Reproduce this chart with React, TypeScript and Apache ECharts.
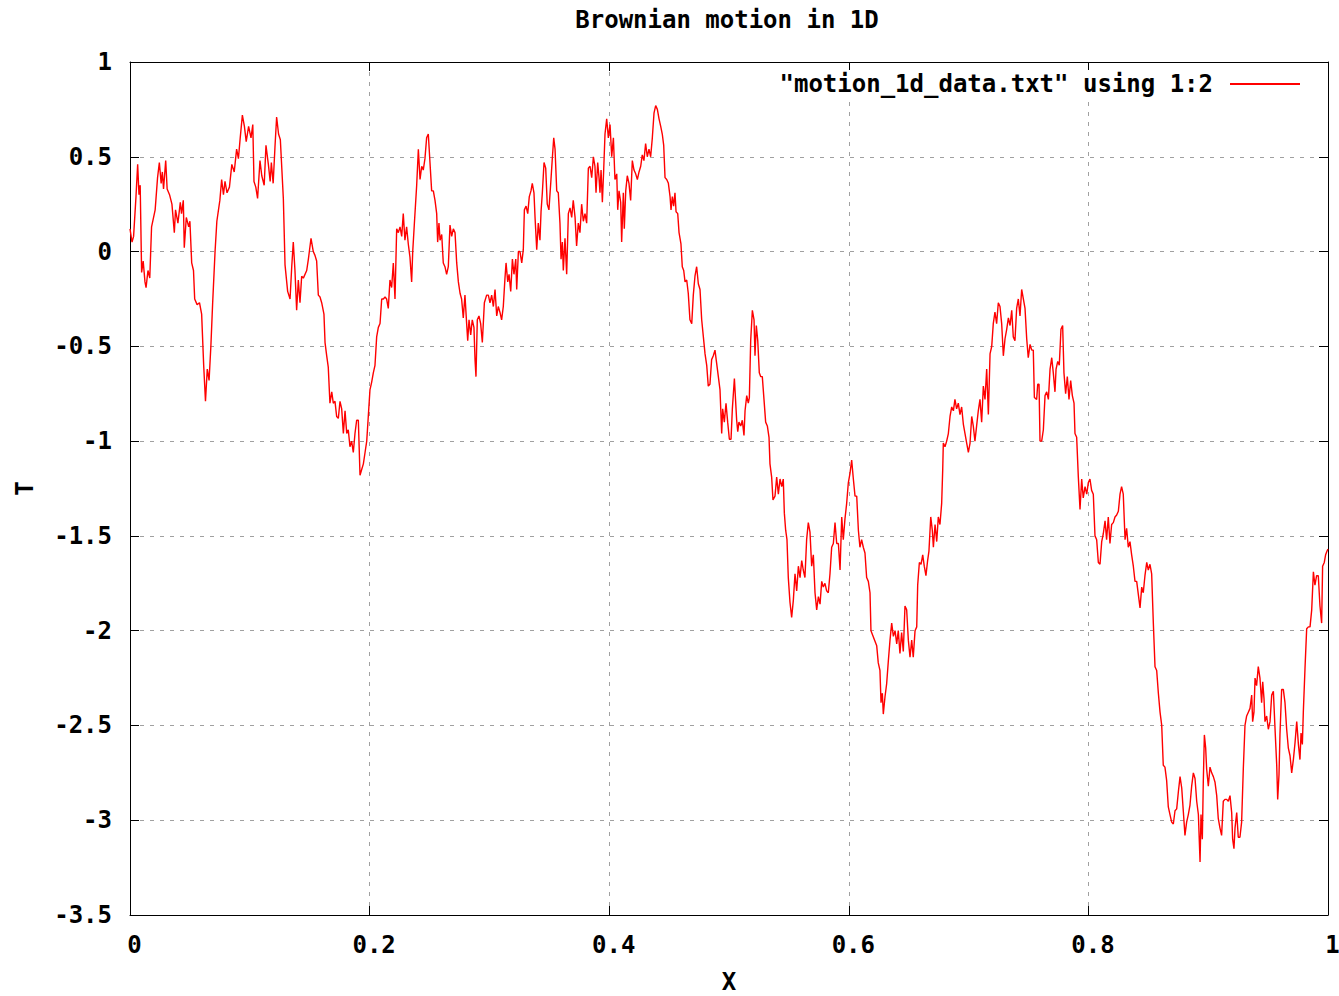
import React, { useEffect, useRef } from "react";
import * as echarts from "echarts";

const TITLE = "Brownian motion in 1D";
const SERIES_NAME = '"motion_1d_data.txt" using 1:2';
const X_NAME = "X";
const Y_NAME = "T";

// [x, T] pairs, segment by segment
const SEG_A: [number, number][] = [
  [0.0, 0.12], [0.0017, 0.05], [0.003, 0.08], [0.005, 0.29], [0.0064, 0.46], [0.0075, 0.3], [0.0085, 0.35],
  [0.0097, -0.11], [0.011, -0.05], [0.0125, -0.16], [0.0134, -0.19], [0.015, -0.1], [0.0165, -0.14], [0.018, 0.13],
  [0.021, 0.22], [0.023, 0.39], [0.0245, 0.47], [0.026, 0.36], [0.027, 0.42], [0.028, 0.33], [0.0298, 0.48],
  [0.031, 0.33], [0.033, 0.3], [0.035, 0.25], [0.037, 0.1], [0.038, 0.22], [0.04, 0.15], [0.042, 0.26],
  [0.043, 0.2], [0.0445, 0.27], [0.0453, 0.02], [0.047, 0.18], [0.049, 0.13], [0.05, 0.16], [0.0515, -0.06],
  [0.053, -0.1], [0.054, -0.25], [0.056, -0.28], [0.058, -0.27], [0.0598, -0.33], [0.0615, -0.6], [0.063, -0.79],
  [0.0645, -0.62], [0.066, -0.68], [0.0675, -0.5], [0.069, -0.27], [0.071, 0.0], [0.0725, 0.16], [0.075, 0.27],
  [0.0765, 0.38], [0.078, 0.3], [0.0793, 0.37], [0.081, 0.31], [0.083, 0.34], [0.085, 0.46], [0.087, 0.42],
  [0.089, 0.54], [0.0905, 0.49], [0.092, 0.6], [0.0938, 0.72], [0.0955, 0.66], [0.097, 0.58], [0.099, 0.66],
  [0.101, 0.6], [0.1025, 0.67], [0.1035, 0.37], [0.105, 0.34], [0.1065, 0.28], [0.1085, 0.48], [0.11, 0.4],
  [0.112, 0.35], [0.1135, 0.56], [0.1155, 0.46], [0.117, 0.37], [0.118, 0.47], [0.1195, 0.36], [0.121, 0.55],
  [0.1224, 0.71], [0.124, 0.62], [0.1255, 0.59], [0.128, 0.28],
];

const SEG_B: [number, number][] = [
  [0.1294, -0.07], [0.1316, -0.21], [0.1336, -0.25], [0.135, -0.08], [0.1363, 0.05], [0.1377, -0.1], [0.1391, -0.31],
  [0.1405, -0.15], [0.1419, -0.27], [0.1433, -0.13], [0.1447, -0.14], [0.1475, -0.1], [0.1489, -0.04], [0.1511, 0.07],
  [0.153, 0.0], [0.1544, -0.02], [0.1558, -0.05], [0.1572, -0.23], [0.1586, -0.24], [0.16, -0.27], [0.1619, -0.33],
  [0.1628, -0.48], [0.1642, -0.55], [0.1655, -0.61], [0.1669, -0.8], [0.1684, -0.74], [0.1697, -0.8], [0.1711, -0.79],
  [0.1725, -0.87], [0.1739, -0.88], [0.1753, -0.79], [0.1767, -0.83], [0.1781, -0.96], [0.1795, -0.84], [0.1809, -0.96],
  [0.1822, -0.94], [0.1836, -1.03], [0.185, -1.0], [0.1864, -1.06], [0.1878, -0.96], [0.1892, -0.89], [0.1906, -0.89],
  [0.192, -1.18], [0.1934, -1.15], [0.1948, -1.12], [0.1962, -1.06], [0.1976, -1.0], [0.1989, -0.87], [0.2003, -0.73],
  [0.2017, -0.69], [0.2031, -0.64], [0.2045, -0.6], [0.2059, -0.45], [0.2073, -0.4], [0.2087, -0.38], [0.2101, -0.25],
  [0.2115, -0.25], [0.2129, -0.24], [0.2142, -0.25], [0.2156, -0.3], [0.217, -0.15], [0.2184, -0.19], [0.2198, -0.06],
  [0.2212, -0.25], [0.2226, 0.12], [0.224, 0.1], [0.2254, 0.13], [0.2268, 0.08], [0.2281, 0.2], [0.2295, 0.06],
  [0.2309, 0.13], [0.2323, 0.04], [0.2337, -0.03], [0.2351, -0.16], [0.236, 0.0], [0.2373, 0.14], [0.2393, 0.35],
  [0.2407, 0.54], [0.2421, 0.38], [0.2435, 0.45], [0.2448, 0.43], [0.2462, 0.49], [0.2476, 0.6], [0.249, 0.62],
  [0.2504, 0.47], [0.2518, 0.32],
];

const SEG_C: [number, number][] = [
  [0.2532, 0.32], [0.2546, 0.27], [0.256, 0.2], [0.2568, 0.05], [0.2579, 0.15], [0.2588, 0.06], [0.2602, 0.09],
  [0.2615, -0.06], [0.2629, -0.08], [0.2643, -0.12], [0.2657, -0.08], [0.2671, 0.14], [0.2685, 0.08], [0.2699, 0.12],
  [0.2713, 0.1], [0.2727, -0.06], [0.2741, -0.16], [0.2755, -0.22], [0.2768, -0.25], [0.2782, -0.35], [0.2796, -0.23],
  [0.281, -0.38], [0.2819, -0.47], [0.283, -0.36], [0.2844, -0.44], [0.2857, -0.36], [0.2871, -0.4], [0.288, -0.57],
  [0.2888, -0.66], [0.2899, -0.36], [0.2913, -0.34], [0.2927, -0.38], [0.2941, -0.48], [0.2958, -0.27], [0.2977, -0.23],
  [0.2991, -0.23], [0.3005, -0.27], [0.3019, -0.23], [0.3033, -0.29], [0.3047, -0.2], [0.3061, -0.34], [0.3074, -0.29],
  [0.3088, -0.32], [0.3102, -0.36], [0.3116, -0.29], [0.313, -0.14], [0.3139, -0.06], [0.3153, -0.16], [0.3164, -0.12],
  [0.3178, -0.21], [0.3192, -0.04], [0.3205, -0.12], [0.322, -0.04], [0.3228, -0.2], [0.3242, 0.0], [0.3255, 0.0],
  [0.327, -0.06], [0.3283, 0.01], [0.3292, 0.22], [0.3306, 0.24], [0.332, 0.2], [0.3333, 0.29], [0.3347, 0.32],
  [0.3358, 0.36], [0.3372, 0.31], [0.3381, 0.18], [0.3395, 0.01], [0.3408, 0.15], [0.3422, 0.06], [0.3431, 0.21],
  [0.3442, 0.31], [0.3456, 0.47], [0.347, 0.44], [0.3483, 0.25], [0.3497, 0.22], [0.3514, 0.38], [0.3525, 0.49],
  [0.3537, 0.6], [0.3548, 0.54], [0.3562, 0.32], [0.3575, 0.31], [0.3589, 0.15], [0.3598, -0.04], [0.3609, 0.05],
  [0.3617, -0.1], [0.3631, 0.07], [0.3645, -0.12], [0.3659, 0.2], [0.3673, 0.23], [0.3687, 0.18], [0.37, 0.27],
  [0.3715, 0.18], [0.3728, 0.03], [0.3742, 0.15], [0.3756, 0.1], [0.377, 0.25], [0.3784, 0.16],
];

const SEG_D: [number, number][] = [
  [0.3798, 0.2], [0.3812, 0.15], [0.3826, 0.44], [0.384, 0.45], [0.3854, 0.39], [0.3868, 0.5], [0.3881, 0.45],
  [0.389, 0.31], [0.3904, 0.47], [0.3915, 0.39], [0.3923, 0.31], [0.3932, 0.43], [0.3943, 0.26], [0.3954, 0.43],
  [0.3965, 0.62], [0.3979, 0.7], [0.3993, 0.6], [0.4007, 0.67], [0.4021, 0.5], [0.4035, 0.6], [0.4048, 0.38],
  [0.4063, 0.41], [0.4071, 0.22], [0.4082, 0.32], [0.4096, 0.26], [0.4104, 0.05], [0.4118, 0.31], [0.4126, 0.12],
  [0.4138, 0.32], [0.4151, 0.4], [0.4165, 0.36], [0.4179, 0.27], [0.4193, 0.48], [0.4207, 0.43], [0.4221, 0.41],
  [0.4235, 0.38], [0.4249, 0.42], [0.4263, 0.45], [0.4276, 0.51], [0.429, 0.48], [0.4304, 0.57], [0.4318, 0.5],
  [0.4332, 0.54], [0.4346, 0.5], [0.436, 0.6], [0.4374, 0.73], [0.4388, 0.77], [0.4402, 0.75], [0.4416, 0.7],
  [0.443, 0.66], [0.4443, 0.62], [0.4455, 0.56], [0.4466, 0.39], [0.448, 0.38], [0.4494, 0.36], [0.4508, 0.29],
  [0.4516, 0.22], [0.4527, 0.29], [0.4538, 0.24], [0.4549, 0.31], [0.4558, 0.21], [0.4572, 0.2], [0.4583, 0.1],
  [0.4599, 0.04], [0.461, -0.08], [0.4622, -0.1], [0.4633, -0.16], [0.4647, -0.15], [0.466, -0.22], [0.4674, -0.36],
  [0.4689, -0.38], [0.4702, -0.23], [0.4716, -0.13], [0.473, -0.08], [0.4744, -0.17], [0.4758, -0.2], [0.4772, -0.36],
  [0.4786, -0.45], [0.48, -0.54], [0.4814, -0.6], [0.4827, -0.71], [0.4841, -0.7], [0.4855, -0.57], [0.4869, -0.55],
  [0.4883, -0.52], [0.4897, -0.59], [0.4911, -0.66], [0.4925, -0.73], [0.4939, -0.96], [0.4947, -0.83], [0.4961, -0.9],
  [0.4975, -0.8], [0.4989, -0.9], [0.5003, -0.99], [0.5017, -0.99], [0.5028, -0.83], [0.5045, -0.67],
];

const SEG_E: [number, number][] = [
  [0.5064, -0.89], [0.5073, -0.95], [0.5083, -0.9], [0.5098, -0.92], [0.5111, -0.89], [0.5125, -0.97], [0.5134, -0.84],
  [0.5148, -0.76], [0.5161, -0.8], [0.517, -0.77], [0.5181, -0.47], [0.5195, -0.31], [0.5209, -0.36], [0.5217, -0.55],
  [0.5228, -0.39], [0.524, -0.47], [0.5253, -0.64], [0.5265, -0.66], [0.5278, -0.66], [0.5292, -0.78], [0.5306, -0.9],
  [0.532, -0.92], [0.5334, -0.98], [0.5342, -1.12], [0.5356, -1.19], [0.5367, -1.31], [0.5384, -1.29], [0.5398, -1.19],
  [0.5412, -1.28], [0.5426, -1.2], [0.544, -1.24], [0.5453, -1.2], [0.5462, -1.38], [0.5473, -1.47], [0.5484, -1.52],
  [0.5495, -1.72], [0.5509, -1.85], [0.5523, -1.93], [0.5537, -1.84], [0.5551, -1.7], [0.5565, -1.79], [0.5579, -1.66],
  [0.5593, -1.72], [0.5607, -1.63], [0.562, -1.68], [0.5634, -1.72], [0.5648, -1.52], [0.5662, -1.43], [0.5676, -1.48],
  [0.569, -1.66], [0.5704, -1.6], [0.5718, -1.8], [0.5732, -1.89], [0.5746, -1.82], [0.576, -1.86], [0.5774, -1.74],
  [0.5787, -1.77], [0.5801, -1.75], [0.5815, -1.79], [0.5829, -1.8], [0.5843, -1.7], [0.5857, -1.56], [0.5871, -1.54],
  [0.5885, -1.43], [0.5899, -1.54], [0.5913, -1.54], [0.5927, -1.68], [0.5941, -1.4], [0.5954, -1.52], [0.5968, -1.41],
  [0.5982, -1.33], [0.5996, -1.22], [0.601, -1.17], [0.6024, -1.1], [0.6038, -1.2], [0.6052, -1.29], [0.6066, -1.29],
  [0.608, -1.47], [0.6093, -1.56], [0.6107, -1.52], [0.6121, -1.56], [0.6135, -1.59], [0.6149, -1.72], [0.6163, -1.74],
  [0.6177, -1.8], [0.6185, -2.0],
];

const SEG_F: [number, number][] = [
  [0.6233, -2.08], [0.6246, -2.17], [0.626, -2.21], [0.6269, -2.38], [0.628, -2.33], [0.6288, -2.44], [0.6302, -2.35],
  [0.6316, -2.28], [0.633, -2.16], [0.6344, -2.05], [0.6358, -1.96], [0.6372, -2.03], [0.6386, -2.0], [0.64, -2.07],
  [0.6413, -2.0], [0.6427, -2.12], [0.6441, -2.01], [0.6455, -2.11], [0.6469, -1.87], [0.6483, -1.89], [0.6497, -2.05],
  [0.6511, -2.14], [0.6525, -2.05], [0.6538, -2.14], [0.6553, -2.0], [0.6567, -1.98], [0.6575, -1.76], [0.6589, -1.64],
  [0.6603, -1.65], [0.6617, -1.6], [0.663, -1.66], [0.6644, -1.71], [0.6658, -1.63], [0.6669, -1.58], [0.6684, -1.4],
  [0.6697, -1.47], [0.6706, -1.56], [0.672, -1.44], [0.6734, -1.53], [0.6747, -1.4], [0.6761, -1.44], [0.6775, -1.33],
  [0.6784, -1.15], [0.6789, -1.01], [0.6803, -1.03], [0.6817, -1.0], [0.6831, -0.96], [0.6845, -0.87], [0.6859, -0.82],
  [0.6873, -0.84], [0.6886, -0.78], [0.69, -0.83], [0.6914, -0.8], [0.6928, -0.86], [0.6942, -0.82], [0.6956, -0.91],
  [0.697, -0.96], [0.6984, -1.01], [0.6998, -1.06], [0.7012, -1.01], [0.7026, -0.87], [0.7039, -0.92], [0.7053, -1.0],
  [0.7067, -0.92], [0.7081, -0.84], [0.7095, -0.78], [0.7109, -0.9], [0.7123, -0.71], [0.7137, -0.78], [0.7151, -0.62],
  [0.7165, -0.86], [0.7179, -0.54], [0.7193, -0.5], [0.7206, -0.38], [0.722, -0.32], [0.7234, -0.38], [0.7248, -0.27],
  [0.7262, -0.29], [0.7276, -0.38], [0.729, -0.55], [0.7304, -0.46], [0.7318, -0.41], [0.7332, -0.35], [0.7346, -0.39],
  [0.736, -0.31], [0.7373, -0.45], [0.7387, -0.47], [0.7401, -0.3], [0.7415, -0.25], [0.7429, -0.34], [0.7443, -0.2],
  [0.7457, -0.25], [0.7471, -0.3], [0.7485, -0.46], [0.7498, -0.56], [0.7513, -0.49], [0.7527, -0.52], [0.754, -0.52],
  [0.7549, -0.77],
];

const SEG_G: [number, number][] = [
  [0.7568, -0.78], [0.7577, -0.7], [0.7588, -0.7], [0.7596, -1.0], [0.761, -1.0], [0.7624, -0.94], [0.7638, -0.76],
  [0.7652, -0.74], [0.7666, -0.78], [0.768, -0.62], [0.7694, -0.56], [0.7707, -0.64], [0.7721, -0.74], [0.773, -0.62],
  [0.7744, -0.58], [0.7757, -0.6], [0.7771, -0.41], [0.7785, -0.39], [0.7796, -0.64], [0.781, -0.75], [0.7824, -0.66],
  [0.7838, -0.78], [0.7852, -0.68], [0.7866, -0.76], [0.788, -0.8], [0.7888, -0.96], [0.7902, -0.98], [0.7916, -1.19],
  [0.793, -1.36], [0.7944, -1.2], [0.7957, -1.3], [0.7972, -1.24], [0.7986, -1.28], [0.7999, -1.22], [0.8013, -1.2],
  [0.8027, -1.26], [0.8041, -1.28], [0.8055, -1.5], [0.8069, -1.52], [0.8083, -1.64], [0.8097, -1.65], [0.8111, -1.53],
  [0.8124, -1.49], [0.8139, -1.42], [0.8152, -1.52], [0.8166, -1.4], [0.818, -1.54], [0.8194, -1.44], [0.8208, -1.43],
  [0.8222, -1.4], [0.8236, -1.39], [0.825, -1.37], [0.8264, -1.28], [0.8277, -1.24], [0.8291, -1.28], [0.8306, -1.52],
  [0.8319, -1.46], [0.8333, -1.56], [0.8347, -1.53], [0.8361, -1.6], [0.8375, -1.66], [0.8389, -1.74], [0.8403, -1.74],
  [0.8417, -1.81], [0.8431, -1.88], [0.8445, -1.77], [0.8458, -1.8], [0.8472, -1.71], [0.8487, -1.64], [0.85, -1.68],
  [0.8514, -1.65], [0.8528, -1.7], [0.8542, -1.96], [0.8556, -2.19], [0.857, -2.21], [0.8584, -2.33], [0.8598, -2.43],
  [0.8612, -2.5], [0.8625, -2.71], [0.8639, -2.72], [0.8653, -2.79], [0.8667, -2.93], [0.8681, -2.97], [0.8695, -3.01],
  [0.8709, -3.02], [0.8723, -2.95], [0.8737, -2.94], [0.8751, -2.85], [0.8765, -2.77], [0.8779, -2.83], [0.8792, -2.95],
];

const SEG_H: [number, number][] = [
  [0.8806, -3.08], [0.882, -3.01], [0.8834, -2.97], [0.8848, -2.92], [0.8862, -2.82], [0.8876, -2.75], [0.889, -2.78],
  [0.8904, -2.9], [0.8918, -2.97], [0.8932, -3.22], [0.894, -2.97], [0.8951, -3.1], [0.8959, -2.8], [0.8968, -2.55],
  [0.8979, -2.62], [0.8987, -2.73], [0.9001, -2.82], [0.9015, -2.72], [0.9029, -2.75], [0.9043, -2.77], [0.9057, -2.8],
  [0.9071, -2.87], [0.9084, -2.99], [0.9098, -3.04], [0.9112, -3.08], [0.9126, -2.9], [0.914, -2.89], [0.9154, -2.89],
  [0.9168, -2.9], [0.9182, -2.87], [0.9196, -2.96], [0.9204, -3.1], [0.9215, -3.15], [0.9224, -3.04], [0.9238, -2.96],
  [0.9251, -3.09], [0.9265, -3.09], [0.9279, -3.01], [0.9293, -2.73], [0.9307, -2.5], [0.9321, -2.45], [0.9335, -2.43],
  [0.9349, -2.41], [0.9363, -2.34], [0.9371, -2.48], [0.9382, -2.43], [0.9391, -2.25], [0.9404, -2.29], [0.9418, -2.19],
  [0.9432, -2.25], [0.9446, -2.38], [0.9455, -2.27], [0.9466, -2.36], [0.9474, -2.48], [0.9488, -2.45], [0.9502, -2.52],
  [0.9516, -2.48], [0.953, -2.34], [0.9544, -2.32], [0.9558, -2.52], [0.9572, -2.71], [0.958, -2.89], [0.9591, -2.76],
  [0.9599, -2.55], [0.9613, -2.31], [0.9627, -2.31], [0.9641, -2.38], [0.9655, -2.52], [0.9669, -2.62], [0.9683, -2.66],
  [0.9697, -2.75], [0.9711, -2.68], [0.9725, -2.59], [0.9739, -2.48], [0.9753, -2.6], [0.9766, -2.68], [0.9775, -2.54],
  [0.9786, -2.6], [0.9794, -2.43], [0.9808, -2.2], [0.9822, -1.99], [0.9836, -1.98], [0.985, -1.98], [0.9864, -1.89],
  [0.9878, -1.69], [0.9891, -1.76], [0.9905, -1.71], [0.9919, -1.71], [0.9933, -1.87], [0.9947, -1.96], [0.9955, -1.66],
  [0.9969, -1.64], [0.998, -1.6], [0.9992, -1.58], [1.0, -1.57],
];

const X_MIN = 0;
const X_MAX = 1;
const X_STEP = 0.2;
const T_MIN = -3.5;
const T_MAX = 1;
const T_STEP = 0.5;

const FONT = '"DejaVu Sans Mono", "Liberation Mono", monospace';

export default function App() {
  const ref = useRef<HTMLDivElement>(null);

  useEffect(() => {
    if (!ref.current) return;
    const chart = echarts.init(ref.current, undefined, { renderer: "svg" });
    const data = [...SEG_A, ...SEG_B, ...SEG_C, ...SEG_D, ...SEG_E, ...SEG_F, ...SEG_G, ...SEG_H];
    const txt = { fontFamily: FONT, fontSize: 24, fontWeight: "bold" as const, color: "#000" };
    const splitLine = { show: true, lineStyle: { color: "#a0a0a0", width: 1, type: [4, 6] } };
    const axisLine = { show: true, onZero: false, lineStyle: { color: "#000", width: 1 } };
    const axisTick = { show: true, inside: true, length: 9, lineStyle: { color: "#000", width: 1 } };

    chart.setOption({
      animation: false,
      backgroundColor: "#ffffff",
      title: {
        text: TITLE,
        left: 722,
        top: 3,
        textAlign: "center",
        textStyle: { ...txt },
      },
      legend: {
        data: [SERIES_NAME],
        right: 39,
        top: 70,
        align: "right",
        icon: "rect",
        itemWidth: 70,
        itemHeight: 2,
        selectedMode: false,
        backgroundColor: "#ffffff",
        padding: [2, 0, 2, 5],
        textStyle: { ...txt, padding: [0, 12, 0, 0] },
      },
      grid: {
        left: 130,
        right: 11,
        top: 62,
        bottom: 81,
        containLabel: false,
        outerBoundsMode: "none",
      },
      xAxis: [
        {
          type: "value",
          min: X_MIN,
          max: X_MAX,
          interval: X_STEP,
          position: "bottom",
          name: X_NAME,
          nameLocation: "middle",
          nameGap: 57,
          nameTextStyle: { ...txt, lineHeight: 20 },
          axisLine,
          axisTick,
          axisLabel: { ...txt, margin: 18, padding: [0, 0, 0, 9] },
          splitLine,
        },
        {
          type: "value",
          min: X_MIN,
          max: X_MAX,
          interval: X_STEP,
          position: "top",
          axisLine,
          axisTick,
          axisLabel: { show: false },
          splitLine: { show: false },
        },
      ],
      yAxis: [
        {
          type: "value",
          min: T_MIN,
          max: T_MAX,
          interval: T_STEP,
          position: "left",
          name: Y_NAME,
          nameLocation: "middle",
          nameGap: 93,
          nameRotate: 90,
          nameTextStyle: { ...txt },
          axisLine,
          axisTick,
          axisLabel: { ...txt, margin: 18 },
          splitLine,
        },
        {
          type: "value",
          min: T_MIN,
          max: T_MAX,
          interval: T_STEP,
          position: "right",
          axisLine,
          axisTick,
          axisLabel: { show: false },
          splitLine: { show: false },
        },
      ],
      series: [
        {
          type: "line",
          name: SERIES_NAME,
          data,
          xAxisIndex: 0,
          yAxisIndex: 0,
          symbol: "none",
          showSymbol: false,
          lineStyle: { color: "#ff0000", width: 1.4 },
          itemStyle: { color: "#ff0000" },
        },
      ],
    });

    return () => chart.dispose();
  }, []);

  return (
    <div
      ref={ref}
      style={{ position: "absolute", left: 0, top: 0, width: 1339, height: 996 }}
    />
  );
}
